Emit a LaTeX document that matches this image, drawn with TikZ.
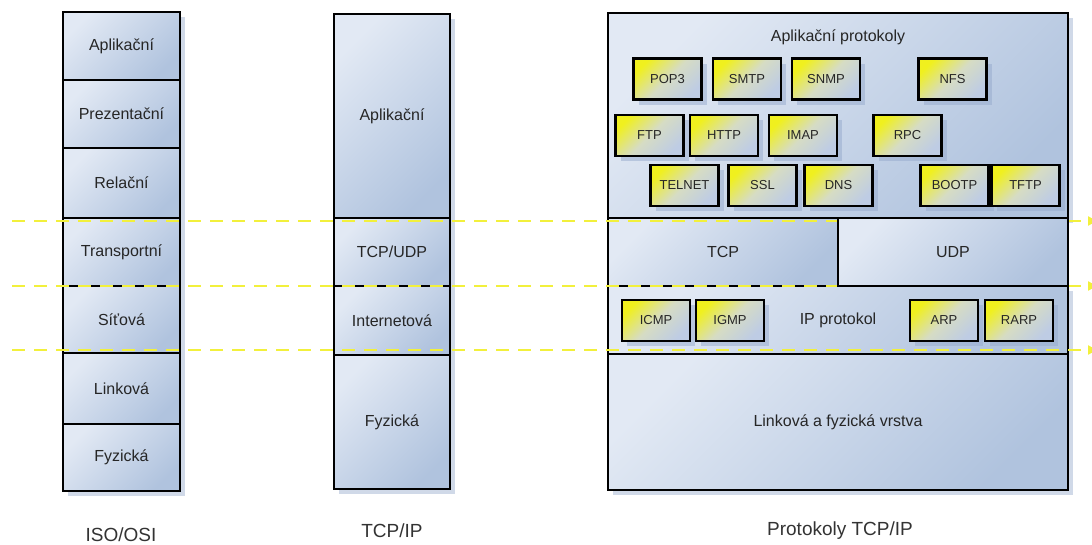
\documentclass[tikz,border=0pt]{standalone}
\usepackage{fontspec}
\setmainfont{Liberation Sans}
\usetikzlibrary{shadows,arrows.meta}
\definecolor{laylight}{RGB}{226,233,244}
\definecolor{laydark}{RGB}{176,195,222}
\definecolor{protyel}{RGB}{240,240,30}
\definecolor{protmid}{RGB}{214,220,196}
\definecolor{protdark}{RGB}{190,204,228}
\definecolor{shadowc}{RGB}{150,170,205}
\definecolor{dashy}{RGB}{242,240,60}
\tikzset{
  layer/.style={draw=black, line width=2.4pt, top color=laylight, bottom color=laydark,
    shading angle=45, inner sep=0pt, outer sep=0pt,
    font=\fontsize{16}{19}\selectfont, text=black!85},
  shad/.style={drop shadow={shadow xshift=5pt, shadow yshift=-5pt, fill=shadowc, opacity=0.45}},
  proto/.style={draw=black, line width=2.4pt, top color=protyel, bottom color=protdark,
    middle color=protmid, shading angle=45, inner sep=0pt, outer sep=0pt,
    minimum width=68pt, minimum height=41pt,
    drop shadow={shadow xshift=5pt, shadow yshift=-5pt, fill=shadowc, opacity=0.5},
    font=\fontsize{13}{15}\selectfont, text=black!85},
  caption/.style={font=\fontsize{19}{22}\selectfont, text=black!80, inner sep=0pt},
  plabel/.style={font=\fontsize{16}{19}\selectfont, text=black!85, inner sep=0pt},
  levelline/.style={draw=dashy, line width=2.5pt, dash pattern=on 13pt off 9pt,
    -{Triangle[length=9pt,width=9pt]}}
}
\begin{document}
\begin{tikzpicture}[x=1pt,y=-1pt]
\useasboundingbox (0,0) rectangle (1092,544);
% ISO/OSI column
\begin{scope}[every node/.append style={layer, shad, minimum width=117pt}]
\node[minimum height=68pt] (o1) at (121.5,46) {Aplikační};
\node[minimum height=68pt] (o2) at (121.5,114) {Prezentační};
\node[minimum height=70pt] (o3) at (121.5,183) {Relační};
\node[minimum height=68pt] (o4) at (121.5,252) {Transportní};
\node[minimum height=67pt] (o5) at (121.5,319.5) {Síťová};
\node[minimum height=71pt] (o6) at (121.5,388.5) {Linková};
\node[minimum height=67pt] (o7) at (121.5,457.5) {Fyzická};
\end{scope}
% TCP/IP column
\begin{scope}[every node/.append style={layer, shad, minimum width=116pt}]
\node[minimum height=204pt] (t1) at (392,116) {Aplikační};
\node[minimum height=68pt] (t2) at (392,252) {TCP/UDP};
\node[minimum height=69pt] (t3) at (392,320.5) {Internetová};
\node[minimum height=134pt] (t4) at (392,422) {Fyzická};
\end{scope}
% Protocol block
\node[layer, shad, minimum width=460pt, minimum height=205pt] (app) at (838,115.5) {};
\node[plabel] (applbl) at (838,37) {Aplikační protokoly};
\node[proto] (pop3) at (667.5,79) {POP3};
\node[proto] (smtp) at (747,79) {SMTP};
\node[proto] (snmp) at (826,79) {SNMP};
\node[proto] (nfs) at (952.5,79) {NFS};
\node[proto] (ftp) at (649.5,135.5) {FTP};
\node[proto] (http) at (724,135.5) {HTTP};
\node[proto] (imap) at (803,135.5) {IMAP};
\node[proto] (rpc) at (907.5,135.5) {RPC};
\node[proto] (telnet) at (684.5,185.5) {TELNET};
\node[proto] (ssl) at (762.5,185.5) {SSL};
\node[proto] (dns) at (838.5,185.5) {DNS};
\node[proto] (bootp) at (954.5,185.5) {BOOTP};
\node[proto] (tftp) at (1025.5,185.5) {TFTP};
\node[layer, shad, minimum width=230pt, minimum height=68pt] (tcp) at (723,252) {TCP};
\node[layer, shad, minimum width=460pt, minimum height=68pt] (ip) at (838,320) {IP protokol};
\node[proto] (icmp) at (656,320.5) {ICMP};
\node[proto] (igmp) at (730,320.5) {IGMP};
\node[proto] (arp) at (944,320.5) {ARP};
\node[proto] (rarp) at (1019,320.5) {RARP};
\node[layer, shad, minimum width=460pt, minimum height=136pt] (link) at (838,422) {Linková a fyzická vrstva};
% level lines
\coordinate (l1s) at (12,221);
\coordinate (l1e) at (1097,221);
\coordinate (l2s) at (12,286);
\coordinate (l2e) at (1097,286);
\coordinate (l3s) at (12,350);
\coordinate (l3e) at (1097,350);
\draw[levelline] (l1s) -- (l1e);
\draw[levelline] (l2s) -- (l2e);
\draw[levelline] (l3s) -- (l3e);
\node[layer, minimum width=230pt, minimum height=68pt] (udp) at (953,252) {UDP};
% captions
\node[caption] (cap1) at (121,535) {ISO/OSI};
\node[caption] (cap2) at (392,531) {TCP/IP};
\node[caption] (cap3) at (840,531) {Protokoly TCP/IP};
\end{tikzpicture}
\end{document}
